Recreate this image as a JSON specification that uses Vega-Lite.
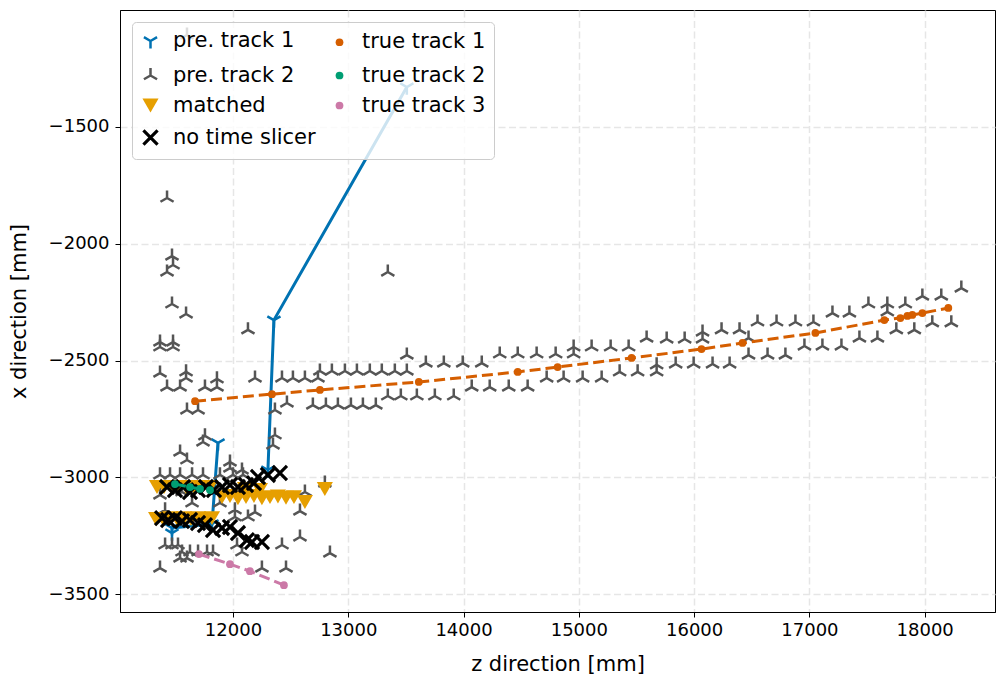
{
  "$schema": "https://vega.github.io/schema/vega-lite/v6.json",
  "width": 875,
  "height": 602,
  "autosize": {"type": "none"},
  "padding": {"left": 120, "top": 10, "right": 1, "bottom": 65},
  "background": "white",
  "config": {
    "font": "DejaVu Sans",
    "view": {"stroke": "#000000", "strokeWidth": 1},
    "axis": {
      "domainColor": "#000000",
      "tickColor": "#000000",
      "tickSize": 5,
      "labelColor": "#000000",
      "titleColor": "#000000",
      "labelFontSize": 18,
      "titleFontSize": 21,
      "titleFontWeight": "normal",
      "grid": true,
      "gridColor": "#e6e6e6",
      "gridWidth": 1.5,
      "gridDash": [7, 3.5]
    },
    "legend": {
      "orient": "top-left",
      "offset": 12,
      "columns": 2,
      "labelFontSize": 21,
      "labelColor": "#000000",
      "symbolStrokeWidth": 2,
      "padding": 8,
      "rowPadding": 8,
      "columnPadding": 13,
      "labelOffset": 12,
      "labelLimit": 300,
      "fillColor": "rgba(255,255,255,0.8)",
      "strokeColor": "#cccccc",
      "cornerRadius": 4
    }
  },
  "datasets": {
    "pts": [
      {"series": "pre. track 1", "part": "a", "z": 11471, "x": -3239},
      {"series": "pre. track 1", "part": "a", "z": 11471, "x": -3217},
      {"series": "pre. track 1", "part": "a", "z": 11818, "x": -3200},
      {"series": "pre. track 1", "part": "a", "z": 11870, "x": -2853},
      {"series": "pre. track 1", "part": "b", "z": 12303, "x": -2969},
      {"series": "pre. track 1", "part": "b", "z": 12355, "x": -2327},
      {"series": "pre. track 1", "part": "b", "z": 13508, "x": -1329},

      {"series": "pre. track 2", "z": 11601, "x": -1106},
      {"series": "pre. track 2", "z": 11428, "x": -1804},
      {"series": "pre. track 2", "z": 11471, "x": -2053},
      {"series": "pre. track 2", "z": 11480, "x": -2091},
      {"series": "pre. track 2", "z": 11428, "x": -2121},
      {"series": "pre. track 2", "z": 11471, "x": -2258},
      {"series": "pre. track 2", "z": 11593, "x": -2301},
      {"series": "pre. track 2", "z": 11367, "x": -2421},
      {"series": "pre. track 2", "z": 11480, "x": -2421},
      {"series": "pre. track 2", "z": 11367, "x": -2442},
      {"series": "pre. track 2", "z": 11480, "x": -2442},
      {"series": "pre. track 2", "z": 12130, "x": -2369},
      {"series": "pre. track 2", "z": 13343, "x": -2121},
      {"series": "pre. track 2", "z": 11367, "x": -2554},
      {"series": "pre. track 2", "z": 11593, "x": -2549},
      {"series": "pre. track 2", "z": 11593, "x": -2575},
      {"series": "pre. track 2", "z": 11428, "x": -2614},
      {"series": "pre. track 2", "z": 11541, "x": -2614},
      {"series": "pre. track 2", "z": 11757, "x": -2614},
      {"series": "pre. track 2", "z": 11861, "x": -2579},
      {"series": "pre. track 2", "z": 11861, "x": -2614},
      {"series": "pre. track 2", "z": 12191, "x": -2575},
      {"series": "pre. track 2", "z": 12425, "x": -2575},
      {"series": "pre. track 2", "z": 12520, "x": -2575},
      {"series": "pre. track 2", "z": 12624, "x": -2575},
      {"series": "pre. track 2", "z": 12737, "x": -2575},
      {"series": "pre. track 2", "z": 12754, "x": -2545},
      {"series": "pre. track 2", "z": 12858, "x": -2545},
      {"series": "pre. track 2", "z": 11601, "x": -2712},
      {"series": "pre. track 2", "z": 11697, "x": -2712},
      {"series": "pre. track 2", "z": 12364, "x": -2712},
      {"series": "pre. track 2", "z": 12468, "x": -2682},
      {"series": "pre. track 2", "z": 12693, "x": -2691},
      {"series": "pre. track 2", "z": 12806, "x": -2691},
      {"series": "pre. track 2", "z": 12910, "x": -2691},
      {"series": "pre. track 2", "z": 13023, "x": -2691},
      {"series": "pre. track 2", "z": 13127, "x": -2691},
      {"series": "pre. track 2", "z": 13239, "x": -2691},
      {"series": "pre. track 2", "z": 11757, "x": -2823},
      {"series": "pre. track 2", "z": 12364, "x": -2819},
      {"series": "pre. track 2", "z": 12971, "x": -2545},
      {"series": "pre. track 2", "z": 13075, "x": -2545},
      {"series": "pre. track 2", "z": 13187, "x": -2545},
      {"series": "pre. track 2", "z": 13291, "x": -2545},
      {"series": "pre. track 2", "z": 13404, "x": -2545},
      {"series": "pre. track 2", "z": 13508, "x": -2545},
      {"series": "pre. track 2", "z": 13508, "x": -2477},
      {"series": "pre. track 2", "z": 13343, "x": -2652},
      {"series": "pre. track 2", "z": 13456, "x": -2652},
      {"series": "pre. track 2", "z": 13595, "x": -2652},
      {"series": "pre. track 2", "z": 13751, "x": -2652},
      {"series": "pre. track 2", "z": 13915, "x": -2652},
      {"series": "pre. track 2", "z": 13673, "x": -2511},
      {"series": "pre. track 2", "z": 13829, "x": -2511},
      {"series": "pre. track 2", "z": 13993, "x": -2511},
      {"series": "pre. track 2", "z": 14158, "x": -2511},
      {"series": "pre. track 2", "z": 14314, "x": -2472},
      {"series": "pre. track 2", "z": 14470, "x": -2472},
      {"series": "pre. track 2", "z": 14634, "x": -2472},
      {"series": "pre. track 2", "z": 14799, "x": -2472},
      {"series": "pre. track 2", "z": 14955, "x": -2472},
      {"series": "pre. track 2", "z": 14955, "x": -2442},
      {"series": "pre. track 2", "z": 15111, "x": -2442},
      {"series": "pre. track 2", "z": 15276, "x": -2442},
      {"series": "pre. track 2", "z": 15432, "x": -2442},
      {"series": "pre. track 2", "z": 15588, "x": -2404},
      {"series": "pre. track 2", "z": 14071, "x": -2614},
      {"series": "pre. track 2", "z": 14227, "x": -2614},
      {"series": "pre. track 2", "z": 14392, "x": -2614},
      {"series": "pre. track 2", "z": 14556, "x": -2614},
      {"series": "pre. track 2", "z": 14721, "x": -2575},
      {"series": "pre. track 2", "z": 14868, "x": -2575},
      {"series": "pre. track 2", "z": 15033, "x": -2575},
      {"series": "pre. track 2", "z": 15198, "x": -2575},
      {"series": "pre. track 2", "z": 15354, "x": -2549},
      {"series": "pre. track 2", "z": 15510, "x": -2549},
      {"series": "pre. track 2", "z": 15675, "x": -2549},
      {"series": "pre. track 2", "z": 15675, "x": -2519},
      {"series": "pre. track 2", "z": 15762, "x": -2408},
      {"series": "pre. track 2", "z": 15918, "x": -2408},
      {"series": "pre. track 2", "z": 16073, "x": -2408},
      {"series": "pre. track 2", "z": 16073, "x": -2378},
      {"series": "pre. track 2", "z": 16238, "x": -2369},
      {"series": "pre. track 2", "z": 16394, "x": -2369},
      {"series": "pre. track 2", "z": 16550, "x": -2335},
      {"series": "pre. track 2", "z": 16715, "x": -2335},
      {"series": "pre. track 2", "z": 16879, "x": -2335},
      {"series": "pre. track 2", "z": 17035, "x": -2335},
      {"series": "pre. track 2", "z": 17200, "x": -2297},
      {"series": "pre. track 2", "z": 17347, "x": -2297},
      {"series": "pre. track 2", "z": 17512, "x": -2258},
      {"series": "pre. track 2", "z": 17676, "x": -2258},
      {"series": "pre. track 2", "z": 17832, "x": -2258},
      {"series": "pre. track 2", "z": 17676, "x": -2292},
      {"series": "pre. track 2", "z": 17980, "x": -2224},
      {"series": "pre. track 2", "z": 18144, "x": -2224},
      {"series": "pre. track 2", "z": 18318, "x": -2190},
      {"series": "pre. track 2", "z": 15840, "x": -2515},
      {"series": "pre. track 2", "z": 15996, "x": -2515},
      {"series": "pre. track 2", "z": 16160, "x": -2515},
      {"series": "pre. track 2", "z": 16308, "x": -2515},
      {"series": "pre. track 2", "z": 16472, "x": -2477},
      {"series": "pre. track 2", "z": 16637, "x": -2477},
      {"series": "pre. track 2", "z": 16792, "x": -2477},
      {"series": "pre. track 2", "z": 16472, "x": -2404},
      {"series": "pre. track 2", "z": 16957, "x": -2438},
      {"series": "pre. track 2", "z": 17113, "x": -2438},
      {"series": "pre. track 2", "z": 17278, "x": -2438},
      {"series": "pre. track 2", "z": 17434, "x": -2404},
      {"series": "pre. track 2", "z": 17590, "x": -2404},
      {"series": "pre. track 2", "z": 17754, "x": -2369},
      {"series": "pre. track 2", "z": 17910, "x": -2369},
      {"series": "pre. track 2", "z": 18066, "x": -2339},
      {"series": "pre. track 2", "z": 18231, "x": -2339},
      {"series": "pre. track 2", "z": 11740, "x": -2849},
      {"series": "pre. track 2", "z": 12347, "x": -2862},
      {"series": "pre. track 2", "z": 11541, "x": -2892},
      {"series": "pre. track 2", "z": 11601, "x": -2926},
      {"series": "pre. track 2", "z": 11974, "x": -2935},
      {"series": "pre. track 2", "z": 11974, "x": -2961},
      {"series": "pre. track 2", "z": 12078, "x": -2969},
      {"series": "pre. track 2", "z": 11367, "x": -2990},
      {"series": "pre. track 2", "z": 11454, "x": -2990},
      {"series": "pre. track 2", "z": 11541, "x": -2990},
      {"series": "pre. track 2", "z": 11645, "x": -2990},
      {"series": "pre. track 2", "z": 11740, "x": -2990},
      {"series": "pre. track 2", "z": 11887, "x": -2990},
      {"series": "pre. track 2", "z": 12000, "x": -2990},
      {"series": "pre. track 2", "z": 12087, "x": -2990},
      {"series": "pre. track 2", "z": 11367, "x": -3076},
      {"series": "pre. track 2", "z": 11558, "x": -3063},
      {"series": "pre. track 2", "z": 11887, "x": -3110},
      {"series": "pre. track 2", "z": 11645, "x": -3110},
      {"series": "pre. track 2", "z": 12017, "x": -3140},
      {"series": "pre. track 2", "z": 12017, "x": -3170},
      {"series": "pre. track 2", "z": 12130, "x": -3170},
      {"series": "pre. track 2", "z": 12191, "x": -3149},
      {"series": "pre. track 2", "z": 11411, "x": -3140},
      {"series": "pre. track 2", "z": 12581, "x": -3145},
      {"series": "pre. track 2", "z": 12624, "x": -3063},
      {"series": "pre. track 2", "z": 12797, "x": -3025},
      {"series": "pre. track 2", "z": 11411, "x": -3290},
      {"series": "pre. track 2", "z": 11471, "x": -3290},
      {"series": "pre. track 2", "z": 11523, "x": -3290},
      {"series": "pre. track 2", "z": 11558, "x": -3320},
      {"series": "pre. track 2", "z": 11627, "x": -3320},
      {"series": "pre. track 2", "z": 11697, "x": -3320},
      {"series": "pre. track 2", "z": 11775, "x": -3320},
      {"series": "pre. track 2", "z": 11827, "x": -3320},
      {"series": "pre. track 2", "z": 11541, "x": -3346},
      {"series": "pre. track 2", "z": 11601, "x": -3346},
      {"series": "pre. track 2", "z": 11367, "x": -3389},
      {"series": "pre. track 2", "z": 12035, "x": -3290},
      {"series": "pre. track 2", "z": 12078, "x": -3320},
      {"series": "pre. track 2", "z": 12251, "x": -3389},
      {"series": "pre. track 2", "z": 12460, "x": -3389},
      {"series": "pre. track 2", "z": 12425, "x": -3290},
      {"series": "pre. track 2", "z": 12581, "x": -3256},
      {"series": "pre. track 2", "z": 12841, "x": -3325},

      {"series": "matched", "z": 11341, "x": -3042},
      {"series": "matched", "z": 11402, "x": -3042},
      {"series": "matched", "z": 11463, "x": -3042},
      {"series": "matched", "z": 11523, "x": -3042},
      {"series": "matched", "z": 11593, "x": -3042},
      {"series": "matched", "z": 11662, "x": -3042},
      {"series": "matched", "z": 11731, "x": -3042},
      {"series": "matched", "z": 11801, "x": -3042},
      {"series": "matched", "z": 12104, "x": -3050},
      {"series": "matched", "z": 12234, "x": -3055},
      {"series": "matched", "z": 11905, "x": -3085},
      {"series": "matched", "z": 11974, "x": -3080},
      {"series": "matched", "z": 12043, "x": -3090},
      {"series": "matched", "z": 12113, "x": -3085},
      {"series": "matched", "z": 12182, "x": -3080},
      {"series": "matched", "z": 12251, "x": -3090},
      {"series": "matched", "z": 12321, "x": -3085},
      {"series": "matched", "z": 12390, "x": -3082},
      {"series": "matched", "z": 12460, "x": -3088},
      {"series": "matched", "z": 12529, "x": -3085},
      {"series": "matched", "z": 12624, "x": -3106},
      {"series": "matched", "z": 12797, "x": -3050},
      {"series": "matched", "z": 11333, "x": -3179},
      {"series": "matched", "z": 11393, "x": -3179},
      {"series": "matched", "z": 11454, "x": -3175},
      {"series": "matched", "z": 11515, "x": -3179},
      {"series": "matched", "z": 11575, "x": -3175},
      {"series": "matched", "z": 11636, "x": -3179},
      {"series": "matched", "z": 11697, "x": -3175},
      {"series": "matched", "z": 11757, "x": -3179},
      {"series": "matched", "z": 11818, "x": -3175},

      {"series": "no time slicer", "z": 11428, "x": -3042},
      {"series": "no time slicer", "z": 11497, "x": -3055},
      {"series": "no time slicer", "z": 11567, "x": -3042},
      {"series": "no time slicer", "z": 11627, "x": -3063},
      {"series": "no time slicer", "z": 11697, "x": -3055},
      {"series": "no time slicer", "z": 11766, "x": -3042},
      {"series": "no time slicer", "z": 11835, "x": -3055},
      {"series": "no time slicer", "z": 11905, "x": -3042},
      {"series": "no time slicer", "z": 11974, "x": -3033},
      {"series": "no time slicer", "z": 12043, "x": -3042},
      {"series": "no time slicer", "z": 12113, "x": -3033},
      {"series": "no time slicer", "z": 12182, "x": -3025},
      {"series": "no time slicer", "z": 12217, "x": -2999},
      {"series": "no time slicer", "z": 12303, "x": -2990},
      {"series": "no time slicer", "z": 12407, "x": -2982},
      {"series": "no time slicer", "z": 11385, "x": -3175},
      {"series": "no time slicer", "z": 11437, "x": -3183},
      {"series": "no time slicer", "z": 11497, "x": -3175},
      {"series": "no time slicer", "z": 11558, "x": -3188},
      {"series": "no time slicer", "z": 11627, "x": -3183},
      {"series": "no time slicer", "z": 11697, "x": -3196},
      {"series": "no time slicer", "z": 11757, "x": -3205},
      {"series": "no time slicer", "z": 11827, "x": -3226},
      {"series": "no time slicer", "z": 11905, "x": -3217},
      {"series": "no time slicer", "z": 11974, "x": -3213},
      {"series": "no time slicer", "z": 12043, "x": -3239},
      {"series": "no time slicer", "z": 12121, "x": -3269},
      {"series": "no time slicer", "z": 12165, "x": -3277},
      {"series": "no time slicer", "z": 12251, "x": -3277},

      {"series": "true track 1", "z": 11671, "x": -2674},
      {"series": "true track 1", "z": 12338, "x": -2644},
      {"series": "true track 1", "z": 12754, "x": -2626},
      {"series": "true track 1", "z": 13612, "x": -2592},
      {"series": "true track 1", "z": 14470, "x": -2549},
      {"series": "true track 1", "z": 14816, "x": -2528},
      {"series": "true track 1", "z": 15458, "x": -2489},
      {"series": "true track 1", "z": 16064, "x": -2451},
      {"series": "true track 1", "z": 16420, "x": -2425},
      {"series": "true track 1", "z": 17052, "x": -2382},
      {"series": "true track 1", "z": 17650, "x": -2327},
      {"series": "true track 1", "z": 17789, "x": -2318},
      {"series": "true track 1", "z": 17850, "x": -2309},
      {"series": "true track 1", "z": 17893, "x": -2305},
      {"series": "true track 1", "z": 17980, "x": -2297},
      {"series": "true track 1", "z": 18205, "x": -2275},

      {"series": "true track 2", "z": 11497, "x": -3029},
      {"series": "true track 2", "z": 11627, "x": -3042},
      {"series": "true track 2", "z": 11714, "x": -3050},
      {"series": "true track 2", "z": 11801, "x": -3055},

      {"series": "true track 3", "z": 11705, "x": -3329},
      {"series": "true track 3", "z": 11974, "x": -3372},
      {"series": "true track 3", "z": 12147, "x": -3402},
      {"series": "true track 3", "z": 12442, "x": -3462}
    ]
  },
  "data": {"name": "pts"},
  "encoding": {
    "x": {
      "field": "z",
      "type": "quantitative",
      "scale": {"domain": [11020, 18610], "nice": false, "zero": false},
      "axis": {
        "title": "z direction [mm]",
        "values": [12000, 13000, 14000, 15000, 16000, 17000, 18000],
        "format": "d",
        "labelPadding": 4,
        "titlePadding": 14
      }
    },
    "y": {
      "field": "x",
      "type": "quantitative",
      "scale": {"domain": [-3577, -999], "nice": false, "zero": false},
      "axis": {
        "title": "x direction [mm]",
        "values": [-3500, -3000, -2500, -2000, -1500],
        "format": "d",
        "labelPadding": 6,
        "titlePadding": 19
      }
    }
  },
  "layer": [
    {
      "transform": [{"filter": "datum.series === 'pre. track 1'"}],
      "mark": {"type": "line", "color": "#0072B2", "strokeWidth": 3},
      "encoding": {"detail": {"field": "part"}, "order": {"value": null}}
    },
    {
      "mark": {"type": "point", "opacity": 1},
      "encoding": {
        "shape": {
          "field": "series", "type": "nominal",
          "scale": {
            "domain": ["pre. track 1", "pre. track 2", "matched", "no time slicer", "true track 1", "true track 2", "true track 3"],
            "range": ["M0,0L0,1M0,0L-0.866,-0.5M0,0L0.866,-0.5", "M0,0L0,-1M0,0L-0.866,0.5M0,0L0.866,0.5", "triangle-down", "M-1,-1L1,1M-1,1L1,-1", "circle", "circle", "circle"]
          },
          "legend": {"title": null}
        },
        "fill": {
          "field": "series", "type": "nominal",
          "scale": {
            "domain": ["pre. track 1", "pre. track 2", "matched", "no time slicer", "true track 1", "true track 2", "true track 3"],
            "range": ["transparent", "transparent", "#E69F00", "transparent", "#D55E00", "#009E73", "#CC79A7"]
          },
          "legend": {"title": null}
        },
        "stroke": {
          "field": "series", "type": "nominal",
          "scale": {
            "domain": ["pre. track 1", "pre. track 2", "matched", "no time slicer", "true track 1", "true track 2", "true track 3"],
            "range": ["#0072B2", "#555555", "transparent", "#000000", "transparent", "transparent", "transparent"]
          },
          "legend": {"title": null}
        },
        "size": {
          "field": "series", "type": "nominal",
          "scale": {
            "type": "ordinal",
            "domain": ["pre. track 1", "pre. track 2", "matched", "no time slicer", "true track 1", "true track 2", "true track 3"],
            "range": [230, 230, 260, 200, 60, 60, 60]
          },
          "legend": {"title": null}
        },
        "strokeWidth": {
          "field": "series", "type": "nominal",
          "scale": {
            "type": "ordinal",
            "domain": ["pre. track 1", "pre. track 2", "matched", "no time slicer", "true track 1", "true track 2", "true track 3"],
            "range": [2.5, 2.5, 0, 3.2, 0, 0, 0]
          },
          "legend": {"title": null}
        }
      }
    },
    {
      "transform": [{"filter": "datum.series === 'true track 1'"}],
      "mark": {"type": "line", "color": "#D55E00", "strokeWidth": 3, "strokeDash": [11, 5]},
      "encoding": {"order": {"value": null}}
    },
    {
      "transform": [{"filter": "datum.series === 'true track 2'"}],
      "mark": {"type": "line", "color": "#009E73", "strokeWidth": 3, "strokeDash": [11, 5]},
      "encoding": {"order": {"value": null}}
    },
    {
      "transform": [{"filter": "datum.series === 'true track 3'"}],
      "mark": {"type": "line", "color": "#CC79A7", "strokeWidth": 3, "strokeDash": [11, 5]},
      "encoding": {"order": {"value": null}}
    }
  ]
}
